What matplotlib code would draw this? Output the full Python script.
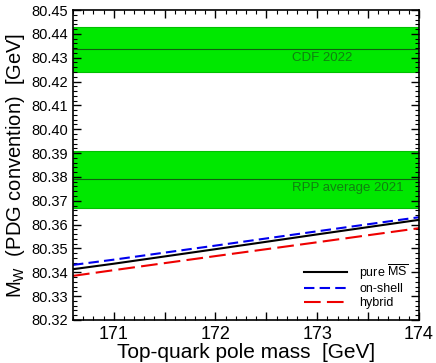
import numpy as np
import matplotlib
matplotlib.use('Agg')
import matplotlib.pyplot as plt
from matplotlib.ticker import MultipleLocator, FormatStrFormatter, FuncFormatter

plt.rcParams['font.family'] = ['Liberation Sans', 'DejaVu Sans']
plt.rcParams['mathtext.fontset'] = 'custom'
plt.rcParams['mathtext.rm'] = 'Liberation Sans'
plt.rcParams['mathtext.it'] = 'Liberation Sans'

# top-quark pole mass [GeV]
mt = [170.6, 171.0, 172.0, 173.0, 174.0]
# M_W predictions [GeV]
mw_msbar = [80.3413, 80.3436, 80.3497, 80.3559, 80.3620]
mw_onshell = [80.3431, 80.3453, 80.3512, 80.3572, 80.3631]
mw_hybrid = [80.3385, 80.3409, 80.3468, 80.3526, 80.3585]

# measurements: central value, uncertainty
cdf = (80.4335, 0.0094)
rpp = (80.379, 0.012)

fig = plt.figure(figsize=(4.36, 3.63), dpi=100)
ax = fig.add_axes([73/436, 1-320/363, 346/436, 310/363])

green = '#00e800'
for (c, e), lab, lx, ha in [(cdf, 'CDF 2022', 173.05, 'center'),
                            (rpp, 'RPP average 2021', 173.85, 'right')]:
    ax.axhspan(c - e, c + e, facecolor=green, edgecolor='#00c000', lw=0.8, zorder=0)
    ax.axhline(c, color='#106010', lw=0.8, zorder=1)
    ax.text(lx, c - 0.0011, lab, color='#108010', fontsize=9.5, ha=ha, va='top')

ax.plot(mt, mw_msbar, color='black', lw=1.5, label=r'pure $\overline{\rm MS}$')
ax.plot(mt, mw_onshell, color='#0000ee', lw=1.5, dashes=(5, 2.5), label='on-shell')
ax.plot(mt, mw_hybrid, color='#ee0000', lw=1.5, dashes=(8, 3), label='hybrid')

ax.set_xlim(170.6, 174.0)
ax.set_ylim(80.32, 80.45)
ax.xaxis.set_major_locator(MultipleLocator(0.5))
ax.xaxis.set_minor_locator(MultipleLocator(0.1))
ax.xaxis.set_major_formatter(FuncFormatter(lambda v, p: '%d' % round(v) if abs(v - round(v)) < 1e-6 else ''))
ax.yaxis.set_major_locator(MultipleLocator(0.01))
ax.yaxis.set_minor_locator(MultipleLocator(0.002))
ax.yaxis.set_major_formatter(FormatStrFormatter('%.2f'))
ax.tick_params(which='both', direction='in', top=True, right=True)
ax.tick_params(axis='y', labelsize=10.5)
ax.tick_params(axis='x', labelsize=13, pad=4)
ax.tick_params(which='major', length=6, width=1)
ax.tick_params(which='minor', length=3, width=0.8)
for s in ax.spines.values():
    s.set_linewidth(1.2)

ax.set_xlabel('Top-quark pole mass  [GeV]', fontsize=15, labelpad=0)
ax.set_ylabel(r'M$_{\rm W}$  (PDG convention)  [GeV]', fontsize=14.5, labelpad=3)

leg = ax.legend(loc='lower right', frameon=False, fontsize=9, handlelength=3.4,
                labelspacing=0.15, borderaxespad=0.45, handletextpad=1.0)

fig.savefig('out.png', dpi=100)
